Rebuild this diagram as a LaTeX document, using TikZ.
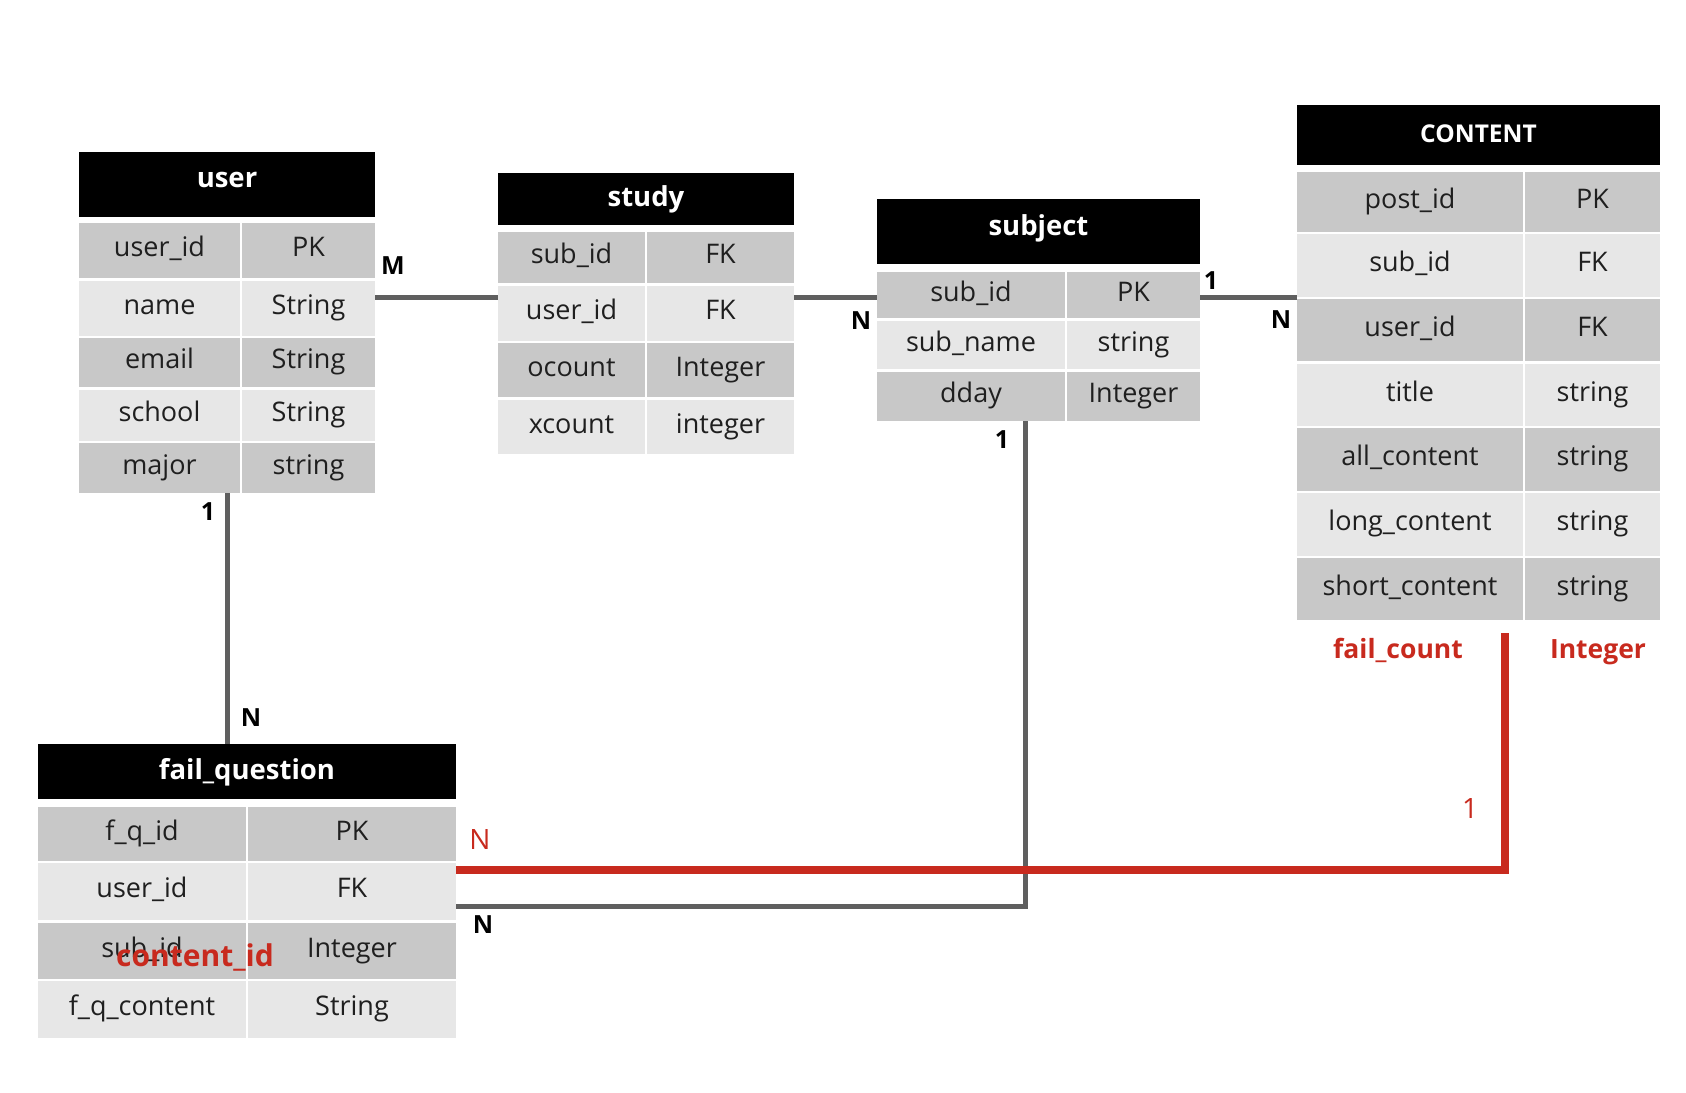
\documentclass[tikz,border=0pt]{standalone}
\usepackage{fontspec}
\setmainfont{Open Sans}
\definecolor{rowdark}{HTML}{C8C8C8}
\definecolor{rowlight}{HTML}{E7E7E7}
\definecolor{linegray}{HTML}{5F5F5F}
\definecolor{redmark}{HTML}{C82A1E}
\tikzset{
  cellbox/.style={fill=#1, inner sep=0pt, text height=18pt, text depth=6pt,
    font=\fontsize{27}{32}\selectfont, text=black!88},
  headbox/.style={fill=black, inner sep=0pt, text height=19pt, text depth=4pt,
    font=\bfseries\fontsize{27.5}{32}\selectfont, text=white},
  conn/.style={draw=linegray, line width=5pt},
  redconn/.style={draw=redmark, line width=8pt},
  card/.style={font=\bfseries\fontsize{25}{30}\selectfont, inner sep=0pt},
  redlabel/.style={text=redmark, font=\fontsize{28}{32}\selectfont, inner sep=0pt},
  redtext/.style={text=redmark, font=\bfseries\fontsize{26.5}{32}\selectfont, inner sep=0pt, anchor=base},
}
% [node options] name, x1, x2, y1, y2, text
\newcommand\erhead[6][]{%
  \node[headbox, minimum width={#3-#2}, minimum height={#5-#4}, #1] (#2) at ({(#3+#4)/2},{(#5+#6)/2}) {};}
\newcommand\erheadb[7][]{%
  \node[headbox, minimum width={#4-#3}, minimum height={#6-#5}] (#2) at ({(#3+#4)/2},{(#5+#6)/2}) {};
  \node[headbox, fill=none, #1] (#2-t) at (#2.center) {#7};}
% name, x1, xmid, x2, y1, y2, fill, left text, right text
\newcommand\errow[9]{%
  \node[cellbox=#7, minimum width={#3-1-#2}, minimum height={#6-#5}] (#1-l) at ({(#2+#3-1)/2},{(#5+#6)/2}) {#8};
  \node[cellbox=#7, minimum width={#4-#3-1}, minimum height={#6-#5}] (#1-r) at ({(#3+1+#4)/2},{(#5+#6)/2}) {#9};}
\begin{document}
\begin{tikzpicture}[x=1pt,y=-1pt]
\useasboundingbox[fill=white] (0,0) rectangle (1686,1092);

% user
\erheadb[yshift=5pt]{user}{79}{375}{152}{217}{user}
\errow{user-id}{79}{241}{375}{223}{278}{rowdark}{user\_id}{PK}
\errow{user-name}{79}{241}{375}{281}{336}{rowlight}{name}{String}
\errow{user-email}{79}{241}{375}{338}{387}{rowdark}{email}{String}
\errow{user-school}{79}{241}{375}{390}{441}{rowlight}{school}{String}
\errow{user-major}{79}{241}{375}{443}{493}{rowdark}{major}{string}

% study
\erheadb{study}{498}{794}{173}{225}{study}
\errow{study-subid}{498}{646}{794}{232}{283}{rowdark}{sub\_id}{FK}
\errow{study-userid}{498}{646}{794}{286}{341}{rowlight}{user\_id}{FK}
\errow{study-ocount}{498}{646}{794}{343}{397}{rowdark}{ocount}{Integer}
\errow{study-xcount}{498}{646}{794}{400}{454}{rowlight}{xcount}{integer}

% subject
\erheadb[yshift=4pt]{subj}{877}{1200}{199}{264}{subject}
\errow{subj-subid}{877}{1066}{1200}{272}{318}{rowdark}{sub\_id}{PK}
\errow{subj-name}{877}{1066}{1200}{321}{369}{rowlight}{sub\_name}{string}
\errow{subj-dday}{877}{1066}{1200}{372}{421}{rowdark}{dday}{Integer}

% CONTENT
\erheadb[font=\bfseries\fontsize{24.5}{30}\selectfont]{cont}{1297}{1660}{105}{165}{CONTENT}
\errow{cont-post}{1297}{1524}{1660}{172}{232}{rowdark}{post\_id}{PK}
\errow{cont-subid}{1297}{1524}{1660}{234}{297}{rowlight}{sub\_id}{FK}
\errow{cont-userid}{1297}{1524}{1660}{299}{361}{rowdark}{user\_id}{FK}
\errow{cont-title}{1297}{1524}{1660}{364}{426}{rowlight}{title}{string}
\errow{cont-all}{1297}{1524}{1660}{428}{491}{rowdark}{all\_content}{string}
\errow{cont-long}{1297}{1524}{1660}{493}{556}{rowlight}{long\_content}{string}
\errow{cont-short}{1297}{1524}{1660}{558}{620}{rowdark}{short\_content}{string}

% fail_question
\erheadb{fq}{38}{456}{744}{799}{fail\_question}
\errow{fq-id}{38}{247}{456}{807}{861}{rowdark}{f\_q\_id}{PK}
\errow{fq-userid}{38}{247}{456}{863}{920}{rowlight}{user\_id}{FK}
\errow{fq-subid}{38}{247}{456}{923}{979}{rowdark}{sub\_id}{Integer}
\errow{fq-content}{38}{247}{456}{981}{1038}{rowlight}{f\_q\_content}{String}

% helper coordinates
\coordinate (yl) at (0,297);
\coordinate (xu) at (227,0);
\coordinate (xs) at (1025,0);
\coordinate (yg) at (0,906);
\coordinate (yr) at (0,870);
\coordinate (xr) at (1505,0);
\coordinate (redend) at (1505,633);

% connectors
\draw[conn] (user-name-r.east |- yl) -- (study-userid-l.west |- yl);
\draw[conn] (study-userid-r.east |- yl) -- (subj-subid-l.west |- yl);
\draw[conn] (subj-subid-r.east |- yl) -- (cont-subid-l.west |- yl);
\draw[conn] (xu |- user-major-l.south) -- (xu |- fq.north);
\draw[conn] (xs |- subj-dday-l.south) -- (xs |- yg) -- (fq-subid-r.east |- yg);
\draw[redconn] (fq-userid-r.east |- yr) -- (xr |- yr) -- (redend);

% cardinalities
\node[card] (cM) at (393,266) {M};
\node[card] (cN1) at (861,321) {N};
\node[card] (c11) at (1211,281) {1};
\node[card] (cN2) at (1281,320) {N};
\node[card] (c12) at (208,512) {1};
\node[card] (cN3) at (251,718) {N};
\node[card] (c13) at (1002,440) {1};
\node[card] (cN4) at (483,925) {N};
\node[redlabel] (rN) at (480,839) {N};
\node[redlabel] (r1) at (1470,808) {1};

% red additions
\node[redtext] (failcount) at (1398,658) {fail\_count};
\node[redtext] (failint) at (1598,658) {Integer};
\node[redtext, font=\bfseries\fontsize{30}{34}\selectfont] (contentid) at (195,966) {content\_id};
\end{tikzpicture}
\end{document}
